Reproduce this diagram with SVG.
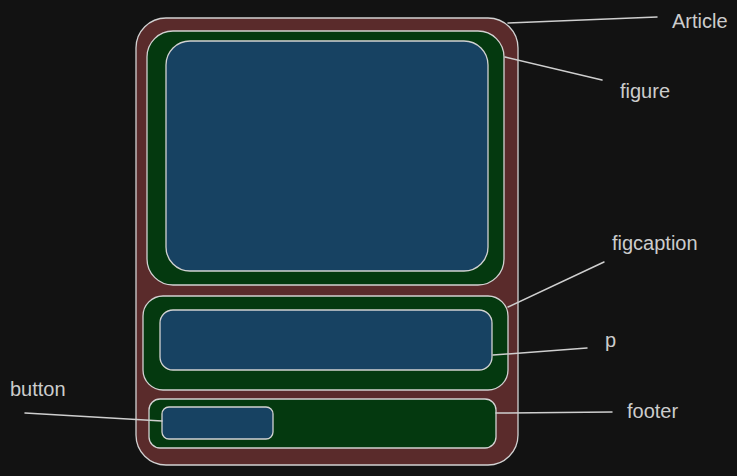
<svg xmlns="http://www.w3.org/2000/svg" width="737" height="476" viewBox="0 0 737 476">
  <style>
    .box { stroke: #d2d2d2; stroke-width: 1.3; }
    .article { fill: #5a2b2b; }
    .green { fill: #04390f; }
    .blue { fill: #174262; }
    .conn { stroke: #cfcfcf; stroke-width: 1.5; fill: none; stroke-linecap: round; }
    .label { fill: #cccccc; font-family: "Liberation Sans", Arial, sans-serif; font-size: 20px; }
  </style>
  <rect x="0" y="0" width="737" height="476" fill="#121212"/>

  <g id="article">
    <rect class="box article" x="136" y="18" width="382" height="447" rx="30" ry="30"/>
  </g>
  <g id="figure">
    <rect class="box green" x="147" y="31" width="357" height="254" rx="26" ry="26"/>
  </g>
  <g id="image">
    <rect class="box blue" x="166" y="41" width="322" height="230" rx="24" ry="24"/>
  </g>
  <g id="figcaption">
    <rect class="box green" x="143" y="296" width="365" height="94" rx="20" ry="20"/>
  </g>
  <g id="p">
    <rect class="box blue" x="160" y="310" width="332" height="60" rx="13" ry="13"/>
  </g>
  <g id="footer">
    <rect class="box green" x="149" y="399" width="347" height="49" rx="11" ry="11"/>
  </g>
  <g id="button">
    <rect class="box blue" x="162" y="407" width="111" height="32" rx="7" ry="7"/>
  </g>

  <g id="connectors">
    <line class="conn" x1="508" y1="23" x2="657" y2="17"/>
    <line class="conn" x1="505" y1="57" x2="602" y2="80"/>
    <line class="conn" x1="508" y1="307" x2="604" y2="262"/>
    <line class="conn" x1="493" y1="355" x2="587" y2="348"/>
    <line class="conn" x1="496" y1="413" x2="612" y2="412"/>
    <line class="conn" x1="25" y1="413" x2="162" y2="421"/>
  </g>

  <g id="labels">
    <text class="label" x="672" y="28">Article</text>
    <text class="label" x="620" y="98">figure</text>
    <text class="label" x="612" y="250">figcaption</text>
    <text class="label" x="605" y="347">p</text>
    <text class="label" x="627" y="418">footer</text>
    <text class="label" x="10" y="396">button</text>
  </g>
</svg>
